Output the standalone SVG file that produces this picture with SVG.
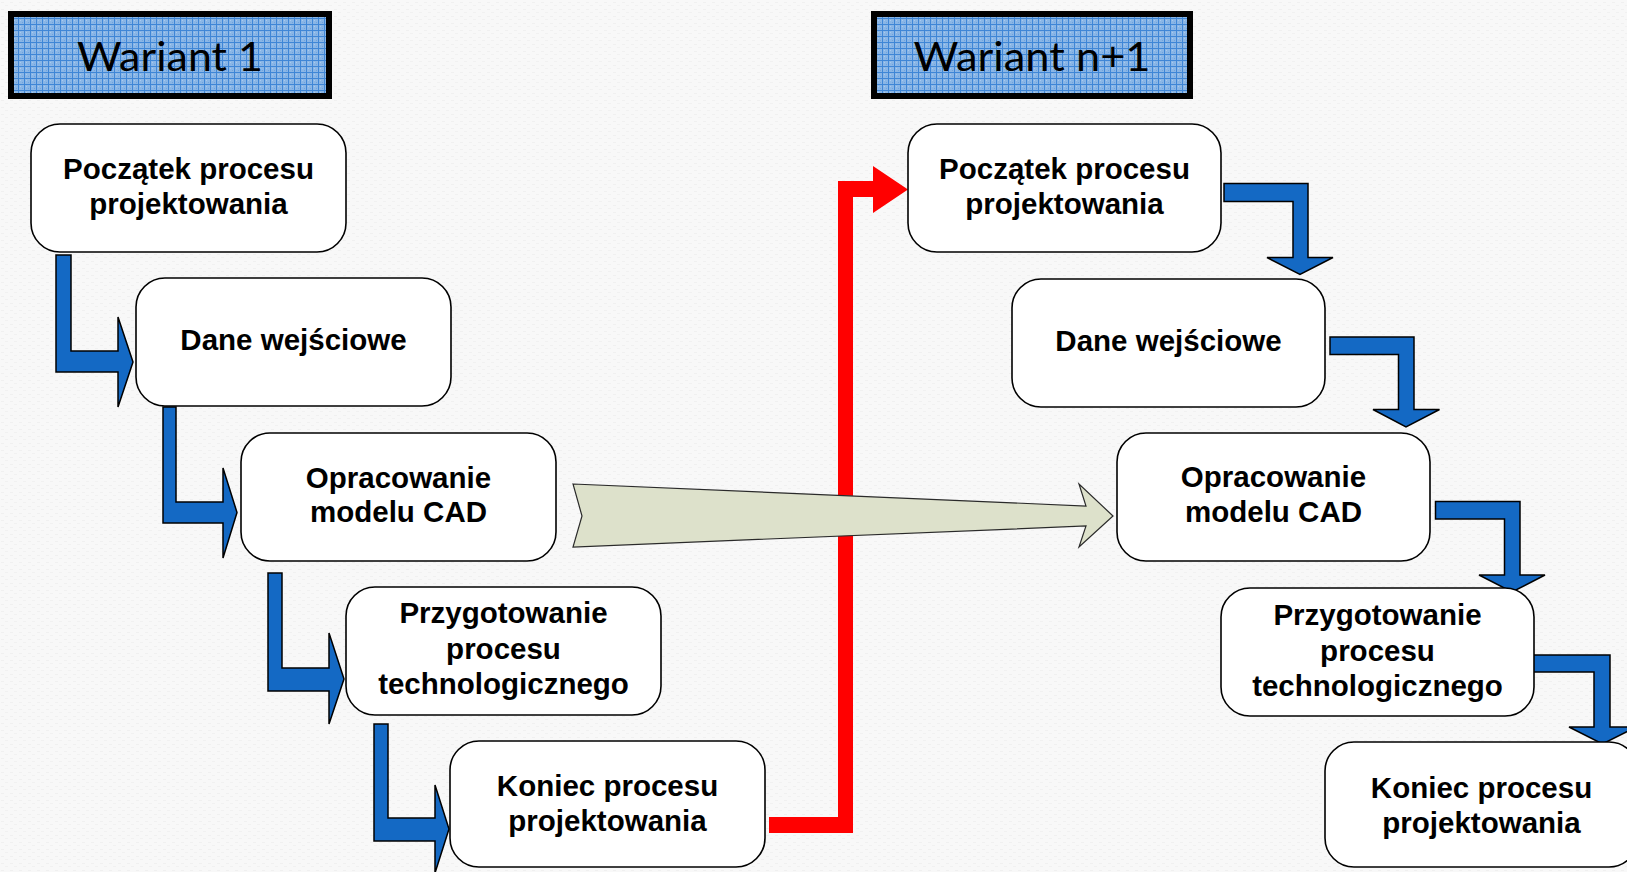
<svg xmlns="http://www.w3.org/2000/svg" width="1627" height="872" viewBox="0 0 1627 872">
  <defs>
    <!-- faint paper texture for the page -->
    <pattern id="paper" width="9" height="7" patternUnits="userSpaceOnUse">
      <rect width="9" height="7" fill="#f8f8f8"/>
      <rect x="1" y="2" width="3" height="1" fill="#f0f0f0"/>
      <rect x="5" y="5" width="3" height="1" fill="#f1f1f1"/>
    </pattern>
    <!-- blue graph-paper fill of the title plates -->
    <pattern id="grid" width="6" height="6" patternUnits="userSpaceOnUse">
      <rect width="6" height="6" fill="#8ab6e6"/>
      <rect x="2" y="2" width="1" height="1" fill="#a9cbf0"/>
      <rect x="4" y="4" width="1" height="1" fill="#6fa3de"/>
      <path d="M0 0.5H6M0.5 0V6" stroke="#3f86d6" stroke-width="1"/>
    </pattern>
    <style>
      .plate rect { fill: url(#grid); stroke: #000; stroke-width: 6; }
      .plate text { font-family: Lato, "Open Sans", sans-serif; font-size: 41px; fill: #000; text-anchor: middle; }
      .box rect { fill: #fff; stroke: #000; stroke-width: 1.6; }
      .box text { font-family: "Liberation Sans", Arial, sans-serif; font-weight: bold; font-size: 29.5px; fill: #000; text-anchor: middle; }
      .bent { fill: #1469c4; stroke: #000; stroke-width: 1.5; stroke-linejoin: miter; }
      .jump { fill: #ff0000; stroke: none; }
      .transfer { fill: #dde1cb; stroke: #2a2a2a; stroke-width: 1.2; }
    </style>
  </defs>

  <rect width="1627" height="872" fill="url(#paper)"/>

  <!-- flow connectors -->
  <g id="connectors">
    <!-- red return path from the end of variant 1 to the start of variant n+1 -->
    <polygon class="jump" points="769,817 838,817 838,181 873,181 873,166 908,189.5 873,213 873,197 853,197 853,833 769,833"/>
    <!-- wide transfer arrow between the CAD model steps -->
    <polygon class="transfer" points="573,484 1086,506 1079,484 1113,516 1079,547 1086,526 573,547 582,516"/>

    <!-- variant 1: bent arrows pointing right -->
    <polygon class="bent" points="56,255 71,255 71,351 118,351 118,317 133,362 118,407 118,372 56,372"/>
    <polygon class="bent" points="163,407 176,407 176,502 223,502 223,468 237,512.5 223,558 223,523 163,523"/>
    <polygon class="bent" points="268,573 282,573 282,668 329,668 329,633 344,679 329,724 329,691 268,691"/>
    <polygon class="bent" points="374,724 388,724 388,818 435,818 435,785 449,829 435,873 435,841 374,841"/>

    <!-- variant n+1: bent arrows pointing down -->
    <polygon class="bent" points="1224,183.5 1308,183.5 1308,257.5 1333,257.5 1300,274.5 1267,257.5 1293,257.5 1293,201.5 1224,201.5"/>
    <polygon class="bent" points="1330,337 1414,337 1414,409.5 1439.5,409.5 1406,427 1373,409.5 1398.5,409.5 1398.5,354.5 1330,354.5"/>
    <polygon class="bent" points="1435.5,501.5 1520,501.5 1520,575 1545,575 1512,592 1479,575 1504.5,575 1504.5,519 1435.5,519"/>
    <polygon class="bent" points="1526,655 1610,655 1610,727 1636,727 1602.5,744 1569,727 1594,727 1594,672 1526,672"/>
  </g>

  <!-- title plates -->
  <g id="plate-w1" class="plate">
    <rect x="11" y="14" width="318" height="82"/>
    <text x="170" y="71" textLength="186" lengthAdjust="spacingAndGlyphs">Wariant 1</text>
  </g>
  <g id="plate-wn1" class="plate">
    <rect x="874" y="14" width="316" height="82"/>
    <text x="1032" y="71" textLength="237" lengthAdjust="spacingAndGlyphs">Wariant n+1</text>
  </g>

  <!-- variant 1 steps -->
  <g id="w1-start" class="box">
    <rect x="31" y="124" width="315" height="128" rx="29"/>
    <text x="188.5" y="179">Początek procesu</text>
    <text x="188.5" y="214">projektowania</text>
  </g>
  <g id="w1-input" class="box">
    <rect x="136" y="278" width="315" height="128" rx="29"/>
    <text x="293.5" y="350">Dane wejściowe</text>
  </g>
  <g id="w1-cad" class="box">
    <rect x="241" y="433" width="315" height="128" rx="29"/>
    <text x="398.5" y="488">Opracowanie</text>
    <text x="398.5" y="522">modelu CAD</text>
  </g>
  <g id="w1-tech" class="box">
    <rect x="346" y="587" width="315" height="128" rx="29"/>
    <text x="503.5" y="623">Przygotowanie</text>
    <text x="503.5" y="659">procesu</text>
    <text x="503.5" y="694">technologicznego</text>
  </g>
  <g id="w1-end" class="box">
    <rect x="450" y="741" width="315" height="126" rx="29"/>
    <text x="607.5" y="796">Koniec procesu</text>
    <text x="607.5" y="831">projektowania</text>
  </g>

  <!-- variant n+1 steps -->
  <g id="wn1-start" class="box">
    <rect x="908" y="124" width="313" height="128" rx="29"/>
    <text x="1064.5" y="179">Początek procesu</text>
    <text x="1064.5" y="214">projektowania</text>
  </g>
  <g id="wn1-input" class="box">
    <rect x="1012" y="279" width="313" height="128" rx="29"/>
    <text x="1168.5" y="351">Dane wejściowe</text>
  </g>
  <g id="wn1-cad" class="box">
    <rect x="1117" y="433" width="313" height="128" rx="29"/>
    <text x="1273.5" y="487">Opracowanie</text>
    <text x="1273.5" y="522">modelu CAD</text>
  </g>
  <g id="wn1-tech" class="box">
    <rect x="1221" y="588" width="313" height="128" rx="29"/>
    <text x="1377.5" y="625">Przygotowanie</text>
    <text x="1377.5" y="661">procesu</text>
    <text x="1377.5" y="696">technologicznego</text>
  </g>
  <g id="wn1-end" class="box">
    <rect x="1325" y="742" width="313" height="125" rx="29"/>
    <text x="1481.5" y="798">Koniec procesu</text>
    <text x="1481.5" y="833">projektowania</text>
  </g>
</svg>
